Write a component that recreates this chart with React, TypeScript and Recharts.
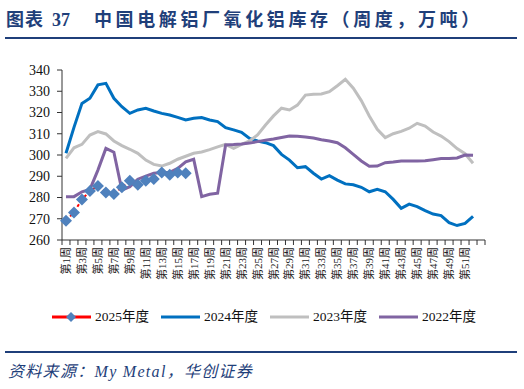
import { CartesianGrid, Line, LineChart, XAxis, YAxis } from "recharts";

// Weekly alumina stock held at Chinese aluminium smelters (万吨), four seasons.
const WEEKS = [
  ...Array.from({ length: 52 }, (_, i) => `第${i + 1}周`),
  "",
];

const Y2025 = [
  269.1, 273.0, 279.1, 283.1, 285.4, 282.4, 281.6, 284.8, 287.9, 286.0,
  287.9, 288.7, 291.8, 290.7, 291.8, 291.4,
];

const Y2024 = [
  300.8, 313.0, 324.3, 326.7, 333.0, 333.7, 326.7, 322.7, 319.6, 321.2,
  322.0, 320.7, 319.6, 318.8, 317.7, 316.5, 317.3, 317.6, 316.5, 315.7,
  312.9, 311.8, 310.7, 307.8, 306.6, 305.8, 304.4, 300.3, 297.6, 294.0,
  294.5, 291.4, 288.7, 290.3, 288.2, 286.4, 286.0, 284.8, 282.7, 283.8,
  282.7, 279.1, 274.9, 276.9, 275.7, 273.8, 272.2, 271.5, 268.2, 266.8,
  267.8, 271.1,
];

const Y2023 = [
  298.4, 303.4, 305.0, 309.4, 311.0, 309.9, 306.6, 304.4, 302.7, 300.8,
  297.6, 295.6, 294.8, 296.1, 298.0, 299.4, 300.8, 301.4, 302.5, 303.8,
  305.0, 303.1, 305.0, 306.6, 309.4, 314.1, 318.4, 322.0, 321.2, 323.5,
  328.2, 328.6, 328.7, 329.8, 332.6, 335.6, 331.4, 325.6, 318.4, 312.1,
  308.2, 310.0, 311.1, 312.6, 314.9, 313.6, 310.8, 308.9, 306.3, 303.0,
  300.6, 296.1,
];

const Y2022 = [
  280.4, 280.4, 282.7, 283.8, 292.9, 303.1, 301.3, 283.5, 285.1, 288.6,
  290.1, 291.4, 291.8, 291.8, 293.7, 296.8, 298.0, 280.4, 281.5, 282.0,
  304.7, 304.9, 305.2, 305.6, 306.3, 306.9, 307.5, 308.2, 308.9, 308.8,
  308.5, 308.0, 307.2, 306.6, 305.8, 303.4, 300.3, 297.2, 294.7, 294.8,
  296.4, 296.7, 297.2, 297.2, 297.2, 297.3, 297.8, 298.3, 298.4, 298.6,
  300.0, 299.9,
];

const Y_TICKS = [260, 270, 280, 290, 300, 310, 320, 330, 340];

const C2025_LINE = "#ff0000";
const C2025_DOT = "#4f81bd";
const C2024 = "#0070c0";
const C2023 = "#bfbfbf";
const C2022 = "#8064a2";
const NAVY = "#1f3f7a";
const SERIF = '"Liberation Serif", "Times New Roman", serif';
const CJK = '"Liberation Serif", "Noto Sans CJK SC", serif';

const W = 524;
const LEFT = 62;
const RIGHT = 39;
const TOP = 70;
const AXIS_Y = 240;
const BAND = (W - LEFT - RIGHT) / WEEKS.length;

const data = WEEKS.map((week, i) => ({
  week,
  y2025: Y2025[i] ?? null,
  y2024: Y2024[i] ?? null,
  y2023: Y2023[i] ?? null,
  y2022: Y2022[i] ?? null,
}));

function Diamond({ cx, cy }: { cx?: number; cy?: number }) {
  if (cx == null || cy == null) return null;
  const r = 6;
  return (
    <polygon
      points={`${cx},${cy - r} ${cx + r},${cy} ${cx},${cy + r} ${cx - r},${cy}`}
      fill={C2025_DOT}
    />
  );
}

function WeekTick({
  x,
  index,
  payload,
}: {
  x?: number;
  index?: number;
  payload?: { value?: string };
}) {
  if (x == null || index == null) return null;
  const left = x - BAND / 2;
  const label = payload?.value ?? "";
  return (
    <g>
      <line x1={left} x2={left} y1={AXIS_Y} y2={AXIS_Y + 5} stroke="#333" />
      {index === WEEKS.length - 1 && (
        <line
          x1={x + BAND / 2}
          x2={x + BAND / 2}
          y1={AXIS_Y}
          y2={AXIS_Y + 5}
          stroke="#333"
        />
      )}
      {index % 2 === 0 && label && (
        <text
          transform={`translate(${x},${AXIS_Y + 7}) rotate(-90)`}
          textAnchor="end"
          dominantBaseline="central"
          fontSize={11}
          fontFamily={CJK}
          fill="#222"
        >
          {label}
        </text>
      )}
    </g>
  );
}

function LegendItem({
  color,
  label,
  diamond,
}: {
  color: string;
  label: string;
  diamond?: boolean;
}) {
  return (
    <span style={{ display: "inline-flex", alignItems: "center", marginRight: 12 }}>
      <svg width={39} height={12} style={{ marginRight: 4 }}>
        <line x1={0} x2={39} y1={6} y2={6} stroke={color} strokeWidth={3} />
        {diamond && <polygon points="19,1 24,6 19,11 14,6" fill={C2025_DOT} />}
      </svg>
      <span>{label}</span>
    </span>
  );
}

export default function App() {
  return (
    <div
      style={{
        position: "absolute",
        left: 0,
        top: 0,
        width: W,
        height: 389,
        background: "#fff",
        overflow: "hidden",
      }}
    >
      <div
        style={{
          position: "absolute",
          left: 6,
          top: 6,
          fontFamily: '"Noto Sans CJK SC", sans-serif',
          fontWeight: 700,
          fontSize: 18,
          color: NAVY,
          whiteSpace: "nowrap",
          lineHeight: "24px",
        }}
      >
        <span style={{ letterSpacing: 1 }}>图表</span>
        <span style={{ fontFamily: SERIF, marginLeft: 8 }}>37</span>
        <span style={{ marginLeft: 24, letterSpacing: 3.6 }}>
          中国电解铝厂氧化铝库存（周度，万吨）
        </span>
      </div>
      <div
        style={{
          position: "absolute",
          left: 5,
          top: 37,
          width: 512,
          height: 2,
          background: NAVY,
        }}
      />

      <div style={{ position: "absolute", left: 0, top: 0 }}>
        <LineChart
          width={W}
          height={300}
          data={data}
          margin={{ top: TOP, right: RIGHT, bottom: 0, left: 0 }}
        >
          <CartesianGrid horizontal={false} vertical={false} />
          <XAxis
            dataKey="week"
            interval={0}
            height={60}
            padding={{ left: BAND / 2, right: BAND / 2 }}
            tickLine={false}
            axisLine={{ stroke: "#333" }}
            tick={<WeekTick />}
          />
          <YAxis
            width={LEFT}
            domain={[260, 340]}
            ticks={Y_TICKS}
            interval={0}
            tickSize={5}
            tickMargin={7}
            tickLine={{ stroke: "#333" }}
            axisLine={{ stroke: "#333" }}
            tick={{ fill: "#111", fontSize: 14, fontFamily: SERIF }}
          />
          <Line
            dataKey="y2025"
            stroke={C2025_LINE}
            strokeWidth={2}
            strokeDasharray="3 3"
            dot={<Diamond />}
            activeDot={false}
            connectNulls={false}
            isAnimationActive={false}
          />
          <Line
            dataKey="y2024"
            stroke={C2024}
            strokeWidth={3}
            dot={false}
            activeDot={false}
            isAnimationActive={false}
          />
          <Line
            dataKey="y2023"
            stroke={C2023}
            strokeWidth={3}
            dot={false}
            activeDot={false}
            isAnimationActive={false}
          />
          <Line
            dataKey="y2022"
            stroke={C2022}
            strokeWidth={3}
            dot={false}
            activeDot={false}
            isAnimationActive={false}
          />
        </LineChart>
      </div>

      <div
        style={{
          position: "absolute",
          left: 52,
          top: 308,
          display: "flex",
          alignItems: "center",
          fontFamily: CJK,
          fontSize: 13.5,
          color: "#111",
          whiteSpace: "nowrap",
          lineHeight: "18px",
        }}
      >
        <LegendItem color={C2025_LINE} label="2025年度" diamond />
        <LegendItem color={C2024} label="2024年度" />
        <LegendItem color={C2023} label="2023年度" />
        <LegendItem color={C2022} label="2022年度" />
      </div>

      <div
        style={{
          position: "absolute",
          left: 5,
          top: 351,
          width: 512,
          height: 2,
          background: NAVY,
        }}
      />
      <div
        style={{
          position: "absolute",
          left: 8,
          top: 361,
          fontFamily: CJK,
          fontStyle: "italic",
          fontSize: 16,
          letterSpacing: 1.3,
          color: NAVY,
          whiteSpace: "nowrap",
          lineHeight: "22px",
        }}
      >
        资料来源：My Metal，华创证券
      </div>
    </div>
  );
}
